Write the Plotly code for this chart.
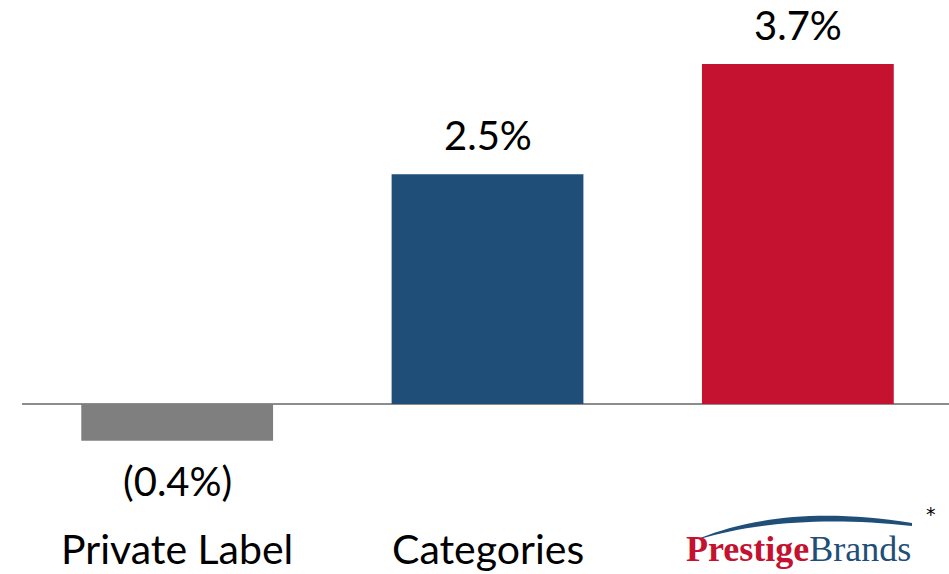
import plotly.graph_objects as go

categories = ["Private Label", "Categories", "Prestige Brands"]
values = [-0.4, 2.5, 3.7]
value_labels = ["(0.4%)", "2.5%", "3.7%"]
tick_labels = ["Private Label", "Categories", ""]
colors = ["#7f7f7f", "#1f4e79", "#c41230"]

W, H = 949, 574
L, R, T, B = 22, 0, 0, 114
PLOT_H = H - T - B
PLOT_W = W - L - R


def px2paper(px, py):
    return (px - L) / PLOT_W, (PLOT_H - (py - T)) / PLOT_H


fig = go.Figure()
fig.add_trace(go.Bar(
    x=categories, y=values, marker=dict(color=colors, line=dict(width=0)),
    hoverinfo="skip",
))

font_main = "Lato, 'Open Sans', sans-serif"

for c, v, lab in zip(categories, values, value_labels):
    fig.add_annotation(
        x=c, y=v, xref="x", yref="y", text=lab, showarrow=False,
        yanchor="bottom" if v >= 0 else "top",
        yshift=13 if v >= 0 else -14,
        font=dict(family=font_main, size=40, color="#000000"),
    )

for c, lab in zip(categories, tick_labels):
    if lab:
        fig.add_annotation(
            x=c, y=px2paper(0, 548)[1], xref="x", yref="paper", text=lab,
            showarrow=False, yanchor="middle",
            font=dict(family=font_main, size=41, color="#000000"),
        )

# logo text for third category
fig.add_annotation(
    x=categories[2], y=px2paper(0, 549)[1], xref="x", yref="paper",
    text="<b><span style='color:#c41230'>Prestige</span></b><span style='color:#1f4e79'>Brands</span>",
    showarrow=False, yanchor="middle", xshift=1,
    font=dict(family="'Liberation Serif', 'DejaVu Serif', serif", size=36),
)
# swoosh
pts_top = [(700, 538), (750, 518), (820, 508), (912, 523)]
pts_bot = [(912, 526), (820, 516), (750, 524), (700, 539)]
def p(x, y):
    a, b = px2paper(x, y)
    return f"{a:.4f},{b:.4f}"
path = (f"M {p(*pts_top[0])} C {p(*pts_top[1])} {p(*pts_top[2])} {p(*pts_top[3])} "
        f"L {p(*pts_bot[0])} C {p(*pts_bot[1])} {p(*pts_bot[2])} {p(*pts_bot[3])} Z")
fig.add_shape(type="path", xref="paper", yref="paper", path=path,
              fillcolor="#1f4e79", line=dict(width=0), layer="above")

fig.add_annotation(
    x=px2paper(938, 0)[0], y=px2paper(0, 527)[1], xref="paper", yref="paper",
    text="*", showarrow=False, font=dict(family="DejaVu Sans, sans-serif", size=19, color="#000"),
)

px_per_unit = (404 - 64) / 3.7
ymax = (404 - T) / px_per_unit
ymin = -(PLOT_H - (404 - T)) / px_per_unit

fig.update_layout(
    width=W, height=H, margin=dict(l=L, r=R, t=T, b=B),
    paper_bgcolor="white", plot_bgcolor="white",
    bargap=0.382, showlegend=False,
    xaxis=dict(range=[-0.5, 2.487], showticklabels=False, showgrid=False,
               zeroline=False, showline=False, ticks=""),
    yaxis=dict(range=[ymin, ymax], showticklabels=False, showgrid=False,
               zeroline=True, zerolinecolor="#8c8c8c", zerolinewidth=2,
               showline=False, ticks=""),
)

fig.write_html("out.html")
